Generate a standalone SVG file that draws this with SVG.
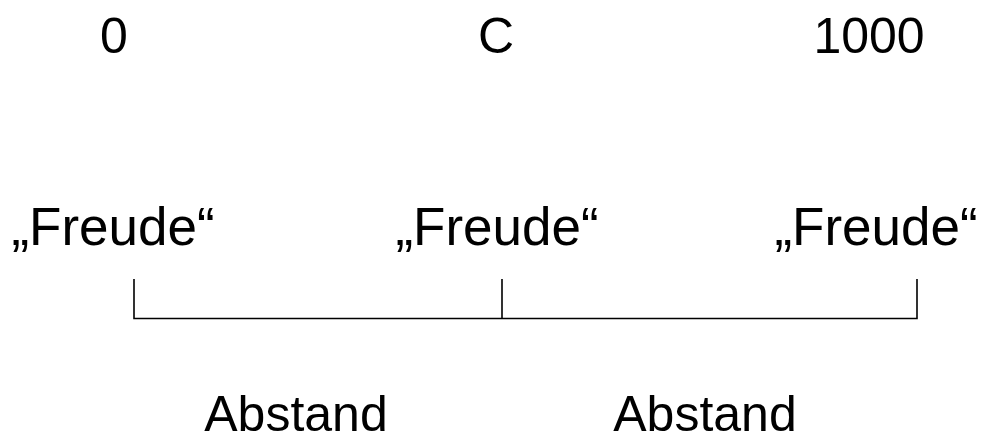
<svg xmlns="http://www.w3.org/2000/svg" width="992" height="438" viewBox="0 0 992 438">
<style>
.t{font-family:"Liberation Sans",Arial,sans-serif;font-size:50px;fill:#000;text-anchor:middle}
.f{font-size:53px}
.c{stroke:#000;stroke-width:1.6;fill:none}
</style>
<rect width="992" height="438" fill="#fff"/>
<g id="label-0"><text class="t" x="114" y="53">0</text></g>
<g id="label-C"><text class="t" x="496" y="53">C</text></g>
<g id="label-1000"><text class="t" x="869" y="53">1000</text></g>
<g id="freude-1"><text class="t f" x="113" y="245">„Freude“</text></g>
<g id="freude-2"><text class="t f" x="497" y="245">„Freude“</text></g>
<g id="freude-3"><text class="t f" x="876" y="245">„Freude“</text></g>
<g id="connectors">
<path class="c" d="M134 279V318.5H917V279M502 279V318.5"/>
</g>
<g id="abstand-1"><text class="t" x="296" y="431">Abstand</text></g>
<g id="abstand-2"><text class="t" x="705" y="431">Abstand</text></g>
</svg>
